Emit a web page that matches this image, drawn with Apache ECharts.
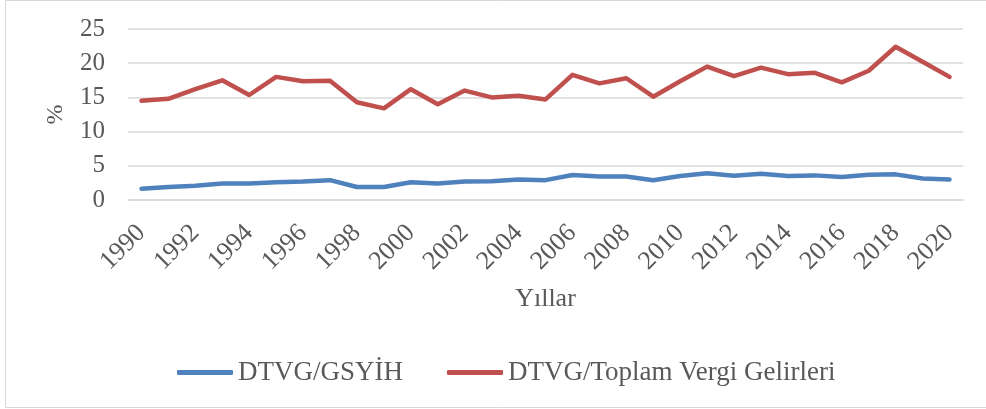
<!DOCTYPE html>
<html><head><meta charset="utf-8">
<script src="https://cdn.jsdelivr.net/npm/echarts@6/dist/echarts.min.js"></script>
<style>html,body{margin:0;padding:0;background:#fff}#c{width:986px;height:409px}</style>
</head><body><div id="c"></div>
<script>
const years = ['1990','1991','1992','1993','1994','1995','1996','1997','1998','1999','2000','2001','2002','2003','2004','2005','2006','2007','2008','2009','2010','2011','2012','2013','2014','2015','2016','2017','2018','2019','2020'];
const gsyih = [1.65,1.9,2.1,2.4,2.4,2.6,2.7,2.9,1.9,1.9,2.6,2.4,2.7,2.75,3.0,2.9,3.65,3.45,3.45,2.9,3.5,3.9,3.55,3.85,3.5,3.6,3.35,3.7,3.75,3.15,3.0];
const toplam = [14.5,14.8,16.2,17.5,15.35,18.0,17.35,17.45,14.3,13.4,16.2,14.0,16.0,15.0,15.25,14.7,18.3,17.05,17.8,15.1,17.35,19.5,18.1,19.35,18.4,18.6,17.2,18.9,22.4,20.2,18.0];
const yTicks = [0,5,10,15,20,25];
const names = ['DTVG/GSYİH','DTVG/Toplam Vergi Gelirleri'];
const font = '"Liberation Serif","Times New Roman",serif';
const chart = echarts.init(document.getElementById('c'));
chart.setOption({
  animation:false,
  textStyle:{fontFamily:font,color:'#595959'},
  graphic:[{type:'rect',shape:{x:5.5,y:0.5,width:990,height:407},style:{fill:'none',stroke:'#D9D9D9',lineWidth:1}}],
  grid:{left:128,right:23,top:29,bottom:209,containLabel:false},
  legend:{left:172,top:354,itemWidth:56,itemHeight:5,itemGap:44,icon:'roundRect',
    textStyle:{fontFamily:font,fontSize:27,color:'#595959'},data:names},
  xAxis:{type:'category',data:years,boundaryGap:true,
    name:'Yıllar',nameLocation:'middle',nameGap:86,
    nameTextStyle:{fontFamily:font,fontSize:26,color:'#595959'},
    axisLine:{show:true,lineStyle:{color:'#D9D9D9',width:1.5}},axisTick:{show:false},
    axisLabel:{interval:1,rotate:45,margin:29,fontFamily:font,fontSize:26,color:'#595959'}},
  yAxis:{type:'value',min:yTicks[0],max:yTicks[yTicks.length-1],interval:5,
    name:'%',nameLocation:'middle',nameRotate:90,nameGap:60,
    nameTextStyle:{fontFamily:font,fontSize:24,color:'#595959'},
    axisLine:{show:false},axisTick:{show:false},
    splitLine:{lineStyle:{color:'#D9D9D9',width:1.5}},
    axisLabel:{margin:23,fontFamily:font,fontSize:25,color:'#595959'}},
  series:[
    {name:names[0],type:'line',data:gsyih,symbol:'none',color:'#4F81BD',lineStyle:{width:4.5,color:'#4F81BD',cap:'round',join:'round'}},
    {name:names[1],type:'line',data:toplam,symbol:'none',color:'#C0504D',lineStyle:{width:4.5,color:'#C0504D',cap:'round',join:'round'}}
  ]
});
</script></body></html>
